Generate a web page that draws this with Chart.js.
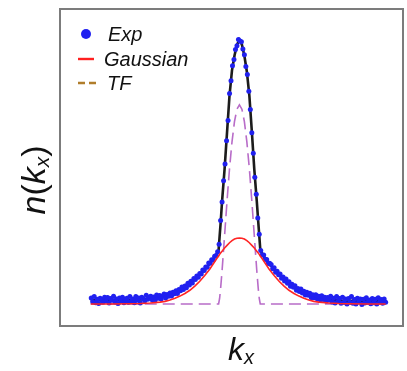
<!DOCTYPE html>
<html>
<head>
<meta charset="utf-8">
<script src="https://cdn.jsdelivr.net/npm/chart.js@4.4.1/dist/chart.umd.min.js"></script>
<style>
  body { margin: 0; background: #fff; }
  canvas { display: block; }
</style>
</head>
<body>
<canvas id="grafico" width="407" height="371"></canvas>
<script>
// datos experimentales: n(kx) muestreado cada kxStep desde kxStart
const kxStart = -2.99;
const kxStep = 0.03;
const expN = [
  0.023, 0.009, 0.028, 0.005, 0.018, 0.002, 0.022, 0.016, 0.007, 0.026,
  0.011, 0.025, 0.004, 0.021, 0.014, 0.029, 0.008, 0.019, 0.002, 0.023,
  0.012, 0.026, 0.005, 0.016, 0.022, 0.007, 0.028, 0.011, 0.019, 0.005,
  0.028, 0.014, 0.023, 0.004, 0.026, 0.019, 0.012, 0.033, 0.018, 0.026,
  0.029, 0.016, 0.027, 0.015, 0.034, 0.022, 0.032, 0.019, 0.030, 0.038,
  0.023, 0.036, 0.029, 0.042, 0.030, 0.045, 0.039, 0.050, 0.040, 0.055,
  0.050, 0.064, 0.055, 0.068, 0.062, 0.079, 0.072, 0.086, 0.080, 0.097,
  0.093, 0.106, 0.101, 0.116, 0.114, 0.129, 0.127, 0.140, 0.139, 0.155,
  0.154, 0.168, 0.167, 0.181, 0.184, 0.198, 0.226, 0.316, 0.386, 0.467,
  0.530, 0.618, 0.695, 0.797, 0.846, 0.902, 0.926, 0.964, 0.978, 1.002,
  0.996, 0.993, 0.966, 0.944, 0.900, 0.869, 0.806, 0.737, 0.649, 0.571,
  0.480, 0.416, 0.326, 0.264, 0.203, 0.186, 0.186, 0.170, 0.169, 0.153,
  0.154, 0.150, 0.134, 0.137, 0.120, 0.124, 0.111, 0.114, 0.098, 0.102,
  0.087, 0.095, 0.079, 0.084, 0.067, 0.075, 0.063, 0.069, 0.052, 0.059,
  0.047, 0.057, 0.042, 0.048, 0.034, 0.045, 0.033, 0.041, 0.024, 0.035,
  0.024, 0.035, 0.020, 0.029, 0.016, 0.031, 0.017, 0.026, 0.011, 0.025,
  0.015, 0.029, 0.008, 0.022, 0.004, 0.028, 0.011, 0.021, 0.003, 0.026,
  0.007, 0.019, 0.000, 0.021, 0.007, 0.028, 0.003, 0.017, 0.000, 0.022,
  0.008, 0.019, -0.002, 0.018, 0.004, 0.024, 0.007, 0.015, 0.001, 0.021,
  0.005, 0.018, 0.000, 0.024, 0.008, 0.017, 0.003, 0.019, 0.007
];

// curvas de ajuste
const fitKx = [-3.0, -2.6, -2.2, -2.0, -1.8, -1.6, -1.5, -1.4, -1.3, -1.2, -1.1, -1.0, -0.9, -0.8, -0.7, -0.6,
  -0.5, -0.45, -0.42, -0.4, -0.38, -0.35, -0.3, -0.25, -0.2, -0.15, -0.1, -0.05, 0,
  0.05, 0.1, 0.15, 0.2, 0.25, 0.3, 0.35, 0.38, 0.4, 0.42, 0.45, 0.5,
  0.6, 0.7, 0.8, 0.9, 1.0, 1.1, 1.2, 1.3, 1.4, 1.5, 1.6, 1.8, 2.0, 2.2, 2.6, 2.95];
const fitTotal = [0.014, 0.014, 0.015, 0.017, 0.021, 0.026, 0.029, 0.034, 0.042, 0.051, 0.063, 0.077, 0.093, 0.111, 0.131, 0.153,
  0.177, 0.191, 0.205, 0.255, 0.305, 0.39, 0.51, 0.65, 0.79, 0.885, 0.94, 0.982, 1.0,
  0.982, 0.94, 0.88, 0.79, 0.655, 0.51, 0.39, 0.31, 0.26, 0.208, 0.193, 0.178,
  0.152, 0.132, 0.113, 0.094, 0.078, 0.064, 0.052, 0.043, 0.035, 0.029, 0.024, 0.017, 0.013, 0.012, 0.011, 0.011];
const fitGauss = [0, 0, 0.001, 0.002, 0.004, 0.007, 0.010, 0.015, 0.022, 0.030, 0.040, 0.052, 0.068, 0.086, 0.108, 0.132,
  0.160, 0.174, 0.182, 0.188, 0.193, 0.200, 0.212, 0.222, 0.232, 0.240, 0.246, 0.249, 0.250,
  0.249, 0.246, 0.240, 0.232, 0.222, 0.212, 0.200, 0.193, 0.188, 0.182, 0.174, 0.160,
  0.132, 0.108, 0.086, 0.068, 0.052, 0.040, 0.030, 0.022, 0.015, 0.010, 0.007, 0.004, 0.002, 0.001, 0, 0];
const fitTF = [0, 0, 0, 0, 0, 0, 0, 0, 0, 0, 0, 0, 0, 0, 0, 0,
  0, 0, 0, 0.021, 0.058, 0.127, 0.258, 0.391, 0.513, 0.614, 0.691, 0.738, 0.754,
  0.738, 0.691, 0.614, 0.513, 0.391, 0.258, 0.127, 0.058, 0.021, 0, 0, 0,
  0, 0, 0, 0, 0, 0, 0, 0, 0, 0, 0, 0, 0, 0, 0, 0];

const etiquetas = ['Exp', 'Gaussian', 'TF'];

const puntos = (ys) => ys.map((y, i) => ({ x: fitKx[i], y: y }));
const expPuntos = expN.map((y, i) => ({ x: kxStart + i * kxStep, y: y }));

const FUENTE = '"Liberation Sans", Arial, sans-serif';

// texto con subindice: partes [{t, it, sub}]
function textoSub(ctx, partes, cx, base, size) {
  const fontDe = (p) => (p.it ? 'italic ' : '') + Math.round(p.sub ? size * 0.62 : size) + 'px ' + FUENTE;
  let ancho = 0;
  partes.forEach(p => { ctx.font = fontDe(p); ancho += ctx.measureText(p.t).width; });
  let x = cx - ancho / 2;
  ctx.textBaseline = 'alphabetic';
  ctx.textAlign = 'left';
  partes.forEach(p => {
    ctx.font = fontDe(p);
    ctx.fillText(p.t, x, base + (p.sub ? size * 0.12 : 0));
    x += ctx.measureText(p.t).width;
  });
}

const marco = {
  id: 'marco',
  afterDatasetsDraw(chart) {
    const { ctx, chartArea: a } = chart;
    ctx.save();
    ctx.strokeStyle = '#7c7c7c';
    ctx.lineWidth = 2;
    ctx.strokeRect(a.left, a.top, a.right - a.left, a.bottom - a.top);
    ctx.restore();
  },
  afterDraw(chart) {
    const ctx = chart.ctx;
    ctx.save();
    // leyenda
    ctx.fillStyle = '#2020f0';
    ctx.beginPath();
    ctx.arc(86, 34, 5, 0, Math.PI * 2);
    ctx.fill();
    ctx.strokeStyle = '#ff2020';
    ctx.lineWidth = 2.4;
    ctx.beginPath();
    ctx.moveTo(78, 59);
    ctx.lineTo(94, 59);
    ctx.stroke();
    ctx.strokeStyle = '#b07d2b';
    ctx.lineWidth = 2.4;
    ctx.beginPath();
    ctx.moveTo(78, 83); ctx.lineTo(85, 83);
    ctx.moveTo(89, 83); ctx.lineTo(96, 83);
    ctx.stroke();
    ctx.fillStyle = '#111';
    ctx.font = 'italic 20px ' + FUENTE;
    ctx.textAlign = 'left';
    ctx.textBaseline = 'alphabetic';
    ctx.fillText(etiquetas[0], 108, 41);
    ctx.fillText(etiquetas[1], 104, 66);
    ctx.fillText(etiquetas[2], 107, 90);
    // titulos de ejes
    textoSub(ctx, [{ t: 'k', it: true }, { t: 'x', it: true, sub: true }], 241, 360, 32);
    ctx.translate(45, 180);
    ctx.rotate(-Math.PI / 2);
    textoSub(ctx, [{ t: 'n', it: true }, { t: '(' }, { t: 'k', it: true }, { t: 'x', it: true, sub: true }, { t: ')' }], 0, 0, 34);
    ctx.restore();
  }
};

const ctx = document.getElementById('grafico').getContext('2d');
new Chart(ctx, {
  type: 'scatter',
  data: {
    datasets: [
      {
        label: etiquetas[1], type: 'line', data: puntos(fitGauss),
        borderColor: '#ff2525', borderWidth: 1.6, pointRadius: 0, fill: false, order: 1
      },
      {
        label: etiquetas[0], data: expPuntos,
        backgroundColor: '#2020f0', borderWidth: 0, pointRadius: 2.5, order: 2
      },
      {
        label: etiquetas[2], type: 'line', data: puntos(fitTF),
        borderColor: '#b86cc8', borderWidth: 1.6, borderDash: [12, 6], pointRadius: 0, fill: false, order: 3
      },
      {
        label: 'Fit', type: 'line', data: puntos(fitTotal),
        borderColor: '#1c1c1c', borderWidth: 2.6, pointRadius: 0, fill: false, order: 4
      }
    ]
  },
  options: {
    responsive: false,
    animation: false,
    devicePixelRatio: 1,
    layout: { padding: { left: 60, top: 9, right: 1, bottom: 45 } },
    plugins: { legend: { display: false }, tooltip: { enabled: false } },
    scales: {
      x: { type: 'linear', min: -3.62, max: 3.30, display: false },
      y: { type: 'linear', min: -0.0833, max: 1.1174, display: false }
    }
  },
  plugins: [marco]
});
</script>
</body>
</html>
